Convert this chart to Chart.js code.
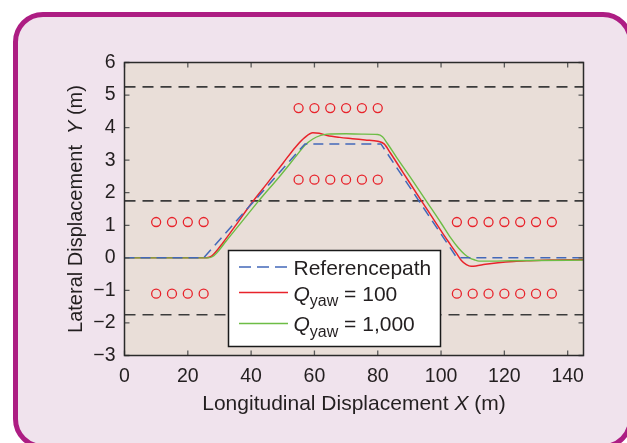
<!DOCTYPE html>
<html>
<head>
<meta charset="utf-8">
<script src="https://cdn.jsdelivr.net/npm/chart.js@4/dist/chart.umd.min.js"></script>
<style>
  html, body { margin: 0; padding: 0; background: #ffffff; overflow: hidden; }
  #wrap { position: relative; width: 627px; height: 443px; overflow: hidden; }
  #frame {
    position: absolute; left: 13px; top: 12px; width: 620px; height: 437px;
    box-sizing: border-box; border: 5px solid #ad1d83; border-radius: 30px;
    background: #f0e3ed;
  }
  #c { position: absolute; left: 0; top: 0; }
</style>
</head>
<body>
<div id="wrap">
  <div id="frame"></div>
  <canvas id="c" width="627" height="443"></canvas>
</div>
<script>
// valores
const xTicks = [0, 20, 40, 60, 80, 100, 120, 140]
const yTicks = [-3, -2, -1, 0, 1, 2, 3, 4, 5, 6]

// trayectoria de referencia
const refX = [0, 25, 57, 81, 105, 145]
const refY = [0, 0, 3.5, 3.5, 0, 0]

// Q_yaw = 100
const q100X = [0, 26, 27.5, 29, 31, 35, 40, 45, 50, 54, 57, 59.5, 61.5, 64, 68, 72, 76, 80, 82, 84, 88, 93.8, 98, 101, 103, 105, 106.5, 108, 109.5, 111, 114, 118, 123, 128, 135, 145]
const q100Y = [0, 0, 0.05, 0.2, 0.45, 0.98, 1.66, 2.28, 2.9, 3.4, 3.7, 3.84, 3.83, 3.76, 3.7, 3.66, 3.62, 3.58, 3.5, 3.22, 2.62, 1.75, 1.13, 0.68, 0.4, 0.12, -0.09, -0.21, -0.26, -0.25, -0.2, -0.15, -0.11, -0.09, -0.07, -0.06]

// Q_yaw = 1,000
const q1000X = [0, 26.5, 28, 30, 32, 36, 42.4, 49, 54, 57, 59.5, 62, 64, 70, 75, 80, 81.5, 83, 86, 90, 95.3, 100, 103, 105.5, 107.5, 109, 110.5, 112, 116, 122, 130, 145]
const q1000Y = [0, 0, 0.05, 0.25, 0.5, 0.98, 1.75, 2.5, 3.1, 3.46, 3.65, 3.76, 3.8, 3.81, 3.8, 3.79, 3.72, 3.52, 3.08, 2.52, 1.75, 1.07, 0.62, 0.3, 0.1, 0, -0.06, -0.1, -0.1, -0.09, -0.08, -0.07]

// limites de carril
const laneY = [5.25, 1.75, -1.75]

// conos
const coneLeftX = [10, 15, 20, 25]
const coneMidX = [55, 60, 65, 70, 75, 80]
const coneRightX = [105, 110, 115, 120, 125, 130, 135]
const coneSideY = [1.1, -1.1]
const coneMidY = [4.6, 2.4]

const FONT = "'Liberation Sans', Arial, Helvetica, sans-serif"
const TXT = '#231f20'

function zipXY(xs, ys){
    return xs.map(function(x, i){ return {x: x, y: ys[i]} })
}

var cones = []
coneSideY.forEach(function(y){
    coneLeftX.forEach(function(x){ cones.push({x: x, y: y}) })
    coneRightX.forEach(function(x){ cones.push({x: x, y: y}) })
})
coneMidY.forEach(function(y){
    coneMidX.forEach(function(x){ cones.push({x: x, y: y}) })
})

var laneSets = laneY.map(function(y){
    return {
        data: [{x: 0, y: y}, {x: 145, y: y}],
        borderColor: '#3b3b3b', borderWidth: 1.6, borderDash: [11, 7],
        pointRadius: 0, order: 6
    }
})

// dibuja texto con partes en distinta fuente (cursiva, subindice)
function textParts(ctx, parts, x, y, align){
    var total = 0
    parts.forEach(function(p){ ctx.font = p.f; p.w = ctx.measureText(p.t).width; total += p.w })
    var cx = align === 'center' ? x - total / 2 : x
    parts.forEach(function(p){
        ctx.font = p.f
        ctx.fillText(p.t, cx, y + (p.dy || 0))
        cx += p.w
    })
}

const plotDeco = {
    id: 'plotDeco',
    beforeDatasetsDraw: function(chart){
        var a = chart.chartArea, ctx = chart.ctx
        ctx.save()
        ctx.fillStyle = '#e9ded8'
        ctx.fillRect(a.left, a.top, a.right - a.left, a.bottom - a.top)
        ctx.restore()
    },
    afterDatasetsDraw: function(chart){
        var a = chart.chartArea, ctx = chart.ctx
        var sx = chart.scales.x, sy = chart.scales.y
        ctx.save()
        // marcas hacia adentro
        ctx.strokeStyle = '#5a5a5a'
        ctx.lineWidth = 1.3
        ctx.beginPath()
        xTicks.forEach(function(v){
            var px = sx.getPixelForValue(v)
            ctx.moveTo(px, a.bottom); ctx.lineTo(px, a.bottom - 5)
            ctx.moveTo(px, a.top); ctx.lineTo(px, a.top + 5)
        })
        yTicks.forEach(function(v){
            var py = sy.getPixelForValue(v)
            ctx.moveTo(a.left, py); ctx.lineTo(a.left + 5, py)
            ctx.moveTo(a.right, py); ctx.lineTo(a.right - 5, py)
        })
        ctx.stroke()
        ctx.strokeStyle = '#2a2a2a'
        ctx.lineWidth = 1.5
        ctx.strokeRect(a.left, a.top, a.right - a.left, a.bottom - a.top)
        ctx.restore()
    },
    afterDraw: function(chart){
        var a = chart.chartArea, ctx = chart.ctx
        ctx.save()
        ctx.fillStyle = TXT
        ctx.textBaseline = 'alphabetic'
        // titulos de ejes
        textParts(ctx, [
            {t: 'Longitudinal Displacement ', f: '21px ' + FONT},
            {t: 'X', f: 'italic 21px ' + FONT},
            {t: ' (m)', f: '21px ' + FONT}
        ], (a.left + a.right) / 2, 410, 'center')
        ctx.save()
        ctx.translate(82, (a.top + a.bottom) / 2)
        ctx.rotate(-Math.PI / 2)
        textParts(ctx, [
            {t: 'Lateral Displacement  ', f: '20px ' + FONT},
            {t: 'Y', f: 'italic 20px ' + FONT},
            {t: ' (m)', f: '20px ' + FONT}
        ], 0, 0, 'center')
        ctx.restore()

        // leyenda
        var lx = 228.5, ly = 250.5, lw = 212, lh = 96
        ctx.fillStyle = '#ffffff'
        ctx.fillRect(lx, ly, lw, lh)
        ctx.strokeStyle = '#1a1a1a'
        ctx.lineWidth = 1.5
        ctx.strokeRect(lx, ly, lw, lh)
        var rows = [
            {y: 267, color: '#4368b9', dash: [12, 6], base: 275,
             parts: [{t: 'Referencepath', f: '21px ' + FONT}]},
            {y: 292.5, color: '#e8232b', dash: [], base: 300.5,
             parts: [{t: 'Q', f: 'italic 21px ' + FONT}, {t: 'yaw', f: '16px ' + FONT, dy: 5.5}, {t: ' = 100', f: '21px ' + FONT}]},
            {y: 323.5, color: '#6dbd45', dash: [], base: 331,
             parts: [{t: 'Q', f: 'italic 21px ' + FONT}, {t: 'yaw', f: '16px ' + FONT, dy: 5.5}, {t: ' = 1,000', f: '21px ' + FONT}]}
        ]
        rows.forEach(function(r){
            ctx.strokeStyle = r.color
            ctx.lineWidth = 1.5
            ctx.setLineDash(r.dash)
            ctx.beginPath()
            ctx.moveTo(239, r.y); ctx.lineTo(288, r.y)
            ctx.stroke()
            ctx.setLineDash([])
            ctx.fillStyle = TXT
            textParts(ctx, r.parts, 293.5, r.base, 'left')
        })
        ctx.restore()
    }
}

var ctx = document.getElementById('c').getContext('2d')
var chart = new Chart(ctx, {
    type: 'line',
    data: {
        datasets: [
            {
                label: 'Referencepath', data: zipXY(refX, refY),
                borderColor: '#4368b9', borderWidth: 1.5, borderDash: [10, 6],
                pointRadius: 0, tension: 0, order: 1
            },
            {
                label: 'Q_yaw = 1,000', data: zipXY(q1000X, q1000Y),
                borderColor: '#6dbd45', borderWidth: 1.4,
                pointRadius: 0, cubicInterpolationMode: 'monotone', order: 2
            },
            {
                label: 'Q_yaw = 100', data: zipXY(q100X, q100Y),
                borderColor: '#e8232b', borderWidth: 1.5,
                pointRadius: 0, cubicInterpolationMode: 'monotone', order: 3
            },
            {
                type: 'scatter', label: 'cones', data: cones,
                showLine: false, pointStyle: 'circle', pointRadius: 4.5,
                pointBorderColor: '#e8232b', pointBackgroundColor: 'rgba(0,0,0,0)',
                pointBorderWidth: 1.3, borderColor: '#e8232b', backgroundColor: 'rgba(0,0,0,0)',
                order: 4
            }
        ].concat(laneSets)
    },
    options: {
        responsive: false,
        animation: false,
        devicePixelRatio: 1,
        layout: { padding: { left: 0, top: 62.5, right: 43.5, bottom: 0 } },
        plugins: { legend: { display: false }, tooltip: { enabled: false } },
        scales: {
            x: {
                type: 'linear', min: 0, max: 145,
                grid: { display: false, drawTicks: false },
                border: { display: false },
                ticks: { font: { family: FONT, size: 19.5 }, color: TXT, padding: 9, maxRotation: 0 },
                afterBuildTicks: function(s){ s.ticks = xTicks.map(function(v){ return {value: v} }) },
                afterFit: function(s){ s.height = 87.5 }
            },
            y: {
                type: 'linear', min: -3, max: 6,
                grid: { display: false, drawTicks: false },
                border: { display: false },
                ticks: {
                    font: { family: FONT, size: 19.5 }, color: TXT, padding: 9,
                    callback: function(v){ return v < 0 ? '\u2212' + Math.abs(v) : String(v) }
                },
                afterBuildTicks: function(s){ s.ticks = yTicks.map(function(v){ return {value: v} }) },
                afterFit: function(s){ s.width = 124.5 }
            }
        }
    },
    plugins: [plotDeco]
})
</script>
</body>
</html>
